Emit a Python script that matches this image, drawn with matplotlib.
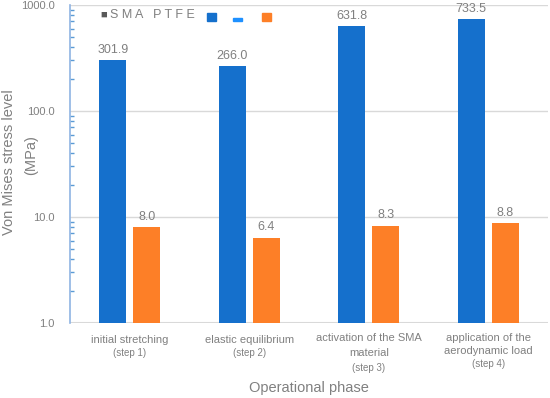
import matplotlib
matplotlib.use("Agg")
import matplotlib.pyplot as plt
import numpy as np
from matplotlib.ticker import LogLocator, FixedLocator, NullFormatter

plt.rcParams['font.family'] = ['Liberation Sans', 'DejaVu Sans']

category_lines = [
    ["initial stretching", "(step 1)"],
    ["elastic equilibrium", "(step 2)"],
    ["activation of the SMA", "material", "(step 3)"],
    ["application of the", "aerodynamic load", "(step 4)"],
]
sma = [301.9, 266.0, 631.8, 733.5]
ptfe = [8.0, 6.4, 8.3, 8.8]
yticks = [1.0, 10.0, 100.0, 1000.0]
ytick_labels = ["1.0", "10.0", "100.0", "1000.0"]

BLUE = "#1570CC"
ORANGE = "#FD7F27"
GRAY = "#808080"

W, H = 550, 398
fig = plt.figure(figsize=(5.5, 3.98), dpi=100)
ax_left, ax_right, ax_top, ax_bot = 70, 548, 5, 323
ax = fig.add_axes([ax_left / W, 1 - ax_bot / H, (ax_right - ax_left) / W, (ax_bot - ax_top) / H])

x = np.arange(len(sma))
w = 0.226
off = 0.142
b1 = ax.bar(x - off, sma, w, color=BLUE)
b2 = ax.bar(x + off, ptfe, w, color=ORANGE)
ax.set_yscale('log')
ax.set_ylim(1, 1000)
ax.set_xlim(-0.5, len(sma) - 0.5)

for bars, vals in ((b1, sma), (b2, ptfe)):
    for r, v in zip(bars, vals):
        ax.annotate(f"{v:.1f}", (r.get_x() + r.get_width() / 2, v), xytext=(0, 3),
                    textcoords='offset points', ha='center', va='bottom', fontsize=9, color=GRAY)

ax.yaxis.set_major_locator(FixedLocator(yticks))
ax.set_yticklabels(ytick_labels)
ax.yaxis.set_minor_locator(LogLocator(base=10, subs=np.arange(2, 10)))
ax.yaxis.set_minor_formatter(NullFormatter())
ax.tick_params(axis='y', which='major', length=0, labelsize=8, labelcolor=GRAY, pad=11)
ax.tick_params(axis='y', which='minor', direction='in', length=3, color='#5B9BD5', width=1)
ax.grid(axis='y', which='major', color='#D9D9D9', linewidth=1)
ax.set_axisbelow(True)
for s in ['top', 'right', 'bottom']:
    ax.spines[s].set_visible(False)
ax.spines['left'].set_color('#8FB4E3')
ax.spines['left'].set_linewidth(1.2)
ax.axhline(1.0, color='#D9D9D9', lw=1.5, zorder=0.5)

ax.set_xticks(x)
ax.set_xticklabels([])
ax.tick_params(axis='x', length=0)

# category labels, line by line (pixel rows in figure)
line_rows = [[340, 353], [340, 353], [338, 353, 368], [338, 351, 364]]
trans = ax.get_xaxis_transform()
for i, (lines, rows) in enumerate(zip(category_lines, line_rows)):
    for ln, row in zip(lines, rows):
        is_step = ln.startswith("(step")
        yf = (ax_bot - row) / (ax_bot - ax_top)
        ax.text(i, yf, ln, transform=trans, ha='center', va='center',
                fontsize=7 if is_step else 8, color=GRAY,
                family=['Liberation Sans Narrow', 'Liberation Sans'] if is_step else None)

fig.text((ax_left + ax_right) / 2 / W, 1 - 388 / H, "Operational phase", ha='center', va='center',
         fontsize=10.5, color=GRAY)
fig.text(9 / W, 1 - 162 / H, "Von Mises stress level", rotation=90, ha='center', va='center',
         fontsize=10.5, color=GRAY)
fig.text(31 / W, 1 - 155 / H, "(MPa)", rotation=90, ha='center', va='center',
         fontsize=10.5, color=GRAY)

# legend-like header
fig.text(100 / W, 1 - 15 / H, "■", fontsize=8, color='#595959', va='center', ha='left')
fig.text(110 / W, 1 - 15 / H, "S M A   P T F E", fontsize=9, color='#7F7F7F', va='center', ha='left')
fig.patches.append(plt.Rectangle((207 / W, 1 - 21 / H), 9 / W, 8 / H, transform=fig.transFigure, color=BLUE))
fig.patches.append(plt.Rectangle((233 / W, 1 - 21 / H), 9 / W, 3 / H, transform=fig.transFigure, color='#1E90FF'))
fig.patches.append(plt.Rectangle((262 / W, 1 - 21 / H), 9 / W, 8 / H, transform=fig.transFigure, color=ORANGE))

fig.savefig("out.png", dpi=100)
